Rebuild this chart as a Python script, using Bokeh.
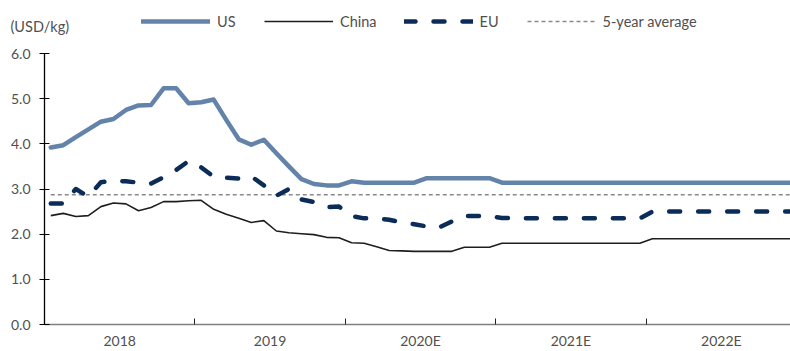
from bokeh.plotting import figure
from bokeh.layouts import column, row
from bokeh.models import (Range1d, FixedTicker, NumeralTickFormatter, Legend,
                          LegendItem, Label, ColumnDataSource)
from bokeh.embed import file_html
from bokeh.resources import INLINE

# ---- data (monthly, Jan 2018 .. Dec 2022) ----
YEARS = ["2018", "2019", "2020E", "2021E", "2022E"]
US = [3.92, 3.97, 4.15, 4.32, 4.49, 4.55, 4.75, 4.85, 4.86, 5.23, 5.23, 4.90,
      4.92, 4.98, 4.53, 4.10, 3.98, 4.09, 3.79, 3.50, 3.22, 3.11, 3.08, 3.08,
      3.17, 3.14, 3.14, 3.14, 3.14, 3.14, 3.24, 3.24, 3.24, 3.24, 3.24, 3.24,
      3.14, 3.14, 3.14, 3.14, 3.14, 3.14, 3.14, 3.14, 3.14, 3.14, 3.14, 3.14,
      3.14, 3.14, 3.14, 3.14, 3.14, 3.14, 3.14, 3.14, 3.14, 3.14, 3.14, 3.14]
CHINA = [2.41, 2.46, 2.39, 2.41, 2.61, 2.69, 2.67, 2.52, 2.59, 2.72, 2.72, 2.74,
         2.75, 2.55, 2.44, 2.35, 2.26, 2.30, 2.07, 2.03, 2.01, 1.99, 1.93, 1.92,
         1.81, 1.80, 1.72, 1.64, 1.63, 1.62, 1.62, 1.62, 1.62, 1.71, 1.71, 1.71,
         1.80, 1.80, 1.80, 1.80, 1.80, 1.80, 1.80, 1.80, 1.80, 1.80, 1.80, 1.80,
         1.90, 1.90, 1.90, 1.90, 1.90, 1.90, 1.90, 1.90, 1.90, 1.90, 1.90, 1.90]
EU = [2.68, 2.68, 3.00, 2.83, 3.15, 3.18, 3.17, 3.14, 3.12, 3.26, 3.42, 3.62,
      3.48, 3.27, 3.25, 3.23, 3.28, 3.08, 2.85, 3.00, 2.77, 2.71, 2.60, 2.61,
      2.40, 2.35, 2.35, 2.32, 2.26, 2.22, 2.17, 2.15, 2.28, 2.40, 2.40, 2.40,
      2.36, 2.35, 2.35, 2.35, 2.35, 2.35, 2.35, 2.35, 2.35, 2.35, 2.35, 2.35,
      2.50, 2.50, 2.50, 2.50, 2.50, 2.50, 2.50, 2.50, 2.50, 2.50, 2.50, 2.50]
AVG_5Y = 2.87
Y_TICKS = [0, 1, 2, 3, 4, 5, 6]
UNIT = "(USD/kg)"

n = len(US)
months = [(i + 0.5) / 12 for i in range(n)]
src = ColumnDataSource(dict(x=months, us=US, china=CHINA, eu=EU,
                            avg=[AVG_5Y] * n))

FONT = "Lato"
TXT = "#505050"
HEAD_H = 40

STY = dict(
    us=dict(line_color="#6383aa", line_width=4.5, line_join="round",
            line_cap="round"),
    china=dict(line_color="#1e1e1e", line_width=1.6),
    eu=dict(line_color="#0b2c58", line_width=4.5, line_dash="11 18",
            line_cap="round", line_join="round"),
    avg=dict(line_color="#8a8a8a", line_width=1.5, line_dash="4 3"),
)

# ---------------- main chart ----------------
p = figure(width=790, height=351 - HEAD_H, x_range=Range1d(0, 4.96),
           y_range=Range1d(0, 6), output_backend="svg",
           toolbar_location=None, min_border_left=44, min_border_right=0,
           min_border_top=13, min_border_bottom=26)
p.outline_line_color = None
p.grid.visible = False
p.background_fill_color = "white"
p.border_fill_color = "white"

for key in ["avg", "china", "eu", "us"]:
    p.line("x", key, source=src, **STY[key])

ya = p.yaxis[0]
ya.ticker = FixedTicker(ticks=Y_TICKS, minor_ticks=[])
ya.formatter = NumeralTickFormatter(format="0.0")
ya.axis_line_color = "black"
ya.axis_line_width = 1.3
ya.major_tick_line_color = "black"
ya.major_tick_in = 5
ya.major_tick_out = 5
ya.major_label_standoff = 9
ya.major_label_text_font = FONT
ya.major_label_text_font_size = "14px"
ya.major_label_text_color = TXT

xa = p.xaxis[0]
centers = [i + 0.5 for i in range(len(YEARS))]
xa.ticker = FixedTicker(ticks=centers, minor_ticks=list(range(len(YEARS) + 1)))
xa.major_label_overrides = {c: y for c, y in zip(centers, YEARS)}
xa.major_tick_in = 0
xa.major_tick_out = 0
xa.minor_tick_in = 6
xa.minor_tick_out = 0
xa.minor_tick_line_color = "#222222"
xa.axis_line_color = "#808080"
xa.axis_line_width = 1.5
xa.major_label_standoff = 7
xa.major_label_text_font = FONT
xa.major_label_text_font_size = "14px"
xa.major_label_text_color = TXT

# ---------------- header: legend + unit ----------------
h = figure(width=790, height=HEAD_H, x_range=Range1d(0, 1),
           y_range=Range1d(100, 101), output_backend="svg",
           toolbar_location=None, min_border=0,
           x_axis_location=None, y_axis_location=None)
h.grid.visible = False
h.outline_line_color = None
h.border_fill_color = "white"
proxies = {key: h.line("x", key, source=src, **STY[key])
           for key in ["us", "china", "eu", "avg"]}

legend = Legend(items=[LegendItem(label="US", renderers=[proxies["us"]]),
                       LegendItem(label="China", renderers=[proxies["china"]]),
                       LegendItem(label="EU", renderers=[proxies["eu"]]),
                       LegendItem(label="5-year average",
                                  renderers=[proxies["avg"]])],
                orientation="horizontal", location=(141, HEAD_H - 31),
                glyph_width=69, glyph_height=20, label_standoff=7, spacing=27,
                padding=0, margin=0, border_line_color=None,
                background_fill_alpha=0, label_text_font=FONT,
                label_text_font_size="14.5px", label_text_color=TXT,
                label_height=20)
h.add_layout(legend)
h.add_layout(Label(x=10, y=HEAD_H - 26, x_units="screen", y_units="screen",
                   text=UNIT, text_font=FONT, text_font_size="14.5px",
                   text_color=TXT, text_baseline="middle"))

open("out.html", "w").write(file_html(column(row(h), p, spacing=0), INLINE))
